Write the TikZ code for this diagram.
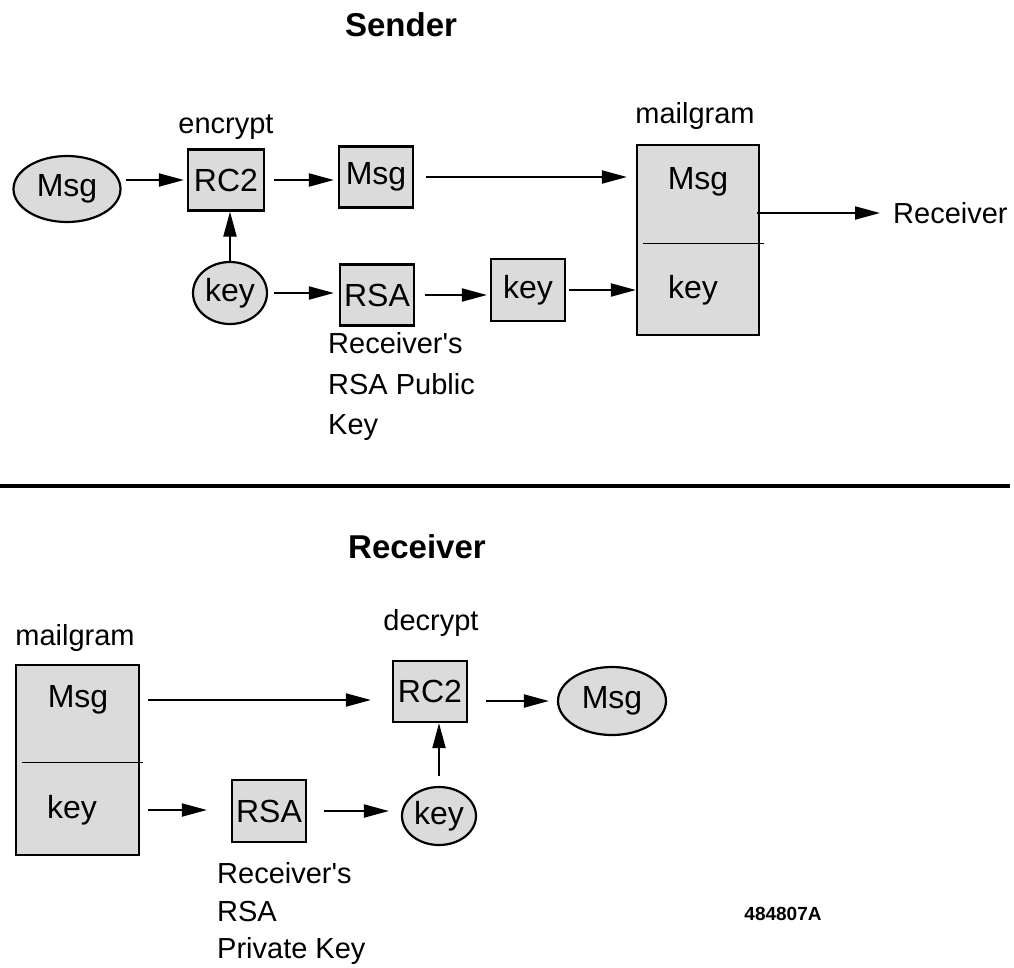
\documentclass[tikz,border=0pt]{standalone}
\usepackage{fontspec}
\setmainfont{Liberation Sans}[Ligatures=TeXOff]
\usetikzlibrary{arrows.meta,shapes.geometric}

\definecolor{shade}{gray}{0.86}
\newcommand\lblfont{\fontsize{29}{34}\selectfont}
\newcommand\boxfont{\fontsize{32}{38}\selectfont}
\newcommand\headfont{\fontsize{33}{40}\selectfont\bfseries}
\newcommand\tagfont{\fontsize{19}{23}\selectfont\bfseries}

\tikzset{
  box/.style={draw, line width=2.2pt, fill=shade, minimum width=74pt,
    minimum height=61pt, inner sep=0pt, font=\boxfont},
  oval/.style={draw, ellipse, line width=2.2pt, fill=shade, inner sep=0pt,
    font=\boxfont},
  gram/.style={draw, line width=2.2pt, fill=shade, minimum width=122pt,
    minimum height=190pt, inner sep=0pt},
  part/.style={inner sep=0pt, font=\boxfont},
  lbl/.style={inner sep=0pt, font=\lblfont},
  head/.style={inner sep=0pt, font=\headfont},
  arr/.style={line width=2pt, -{Triangle[length=25pt,width=13pt]}},
  divider/.style={line width=1pt},
}

\begin{document}
\begin{tikzpicture}[x=1pt, y=-1pt]
\useasboundingbox (0,0) rectangle (1014,967);

% ---------------- Sender ----------------
\node[head] (sendT) at (401,25) {Sender};
\node[lbl, anchor=base] (encT) at (226,133) {encrypt};

\node[oval, minimum width=107pt, minimum height=66pt] (msgA) at (67,189) {Msg};
\node[box, minimum width=76pt] (rc2) at (226,180) {RC2};
\node[box] (msgB) at (376,177) {Msg};
\node[oval, minimum width=74pt, minimum height=62pt] (keyA) at (230,293) {key};
\node[box] (rsa) at (377,295) {RSA};
\node[box, minimum height=62pt] (keyB) at (528,290) {key};

\node[lbl, anchor=base] (mgT) at (695,123) {mailgram};
\node[gram] (mg) at (698,240) {};
\coordinate (mgDivL) at (643,243);
\coordinate (mgDivR) at (764,243);
\draw[divider] (mgDivL) -- (mgDivR);
\node[part] (mgMsg) at (698,182) {Msg};
\node[part] (mgKey) at (693,290) {key};

\node[lbl, anchor=west] (rcv) at (893,213) {Receiver};

\node[lbl, anchor=base west] (pub1) at (328,353) {Receiver's};
\node[lbl, anchor=base west] (pub2) at (328,394) {RSA Public};
\node[lbl, anchor=base west] (pub3) at (328,434) {Key};

\draw[arr, shorten <=4pt, shorten >=3pt] (msgA.east |- rc2) -- (rc2.west);
\draw[arr, shorten <=9pt, shorten >=4pt] (rc2.east) -- (rc2.east -| msgB.west);
\draw[arr, shorten <=12pt, shorten >=9pt] (msgB.east) -- (msgB.east -| mg.west);
\draw[arr, shorten <=-3pt, shorten >=13pt] (mg.east |- rcv) -- (rcv.west);
\draw[arr] (keyA.north) -- (keyA.north |- rc2.south);
\draw[arr, shorten <=6pt, shorten >=5pt] (keyA.east) -- (keyA.east -| rsa.west);
\draw[arr, shorten <=10pt, shorten >=3pt] (rsa.east) -- (rsa.east -| keyB.west);
\draw[arr, shorten <=3pt] (keyB.east) -- (keyB.east -| mg.west);

% ---------------- separator ----------------
\coordinate (ruleL) at (0,486);
\coordinate (ruleR) at (1010,486);
\draw[line width=3.5pt] (ruleL) -- (ruleR);

% ---------------- Receiver ----------------
\node[head] (recvT) at (417,547) {Receiver};

\node[lbl, anchor=base] (mgT2) at (75,645) {mailgram};
\node[gram, minimum width=123pt] (mgB) at (77.5,760) {};
\coordinate (mgBDivL) at (22,762);
\coordinate (mgBDivR) at (143,762);
\draw[divider] (mgBDivL) -- (mgBDivR);
\node[part] (bMsg) at (78,700) {Msg};
\node[part] (bKey) at (72,810) {key};

\node[lbl, anchor=base] (decT) at (431,630) {decrypt};
\node[box] (rc2b) at (430,691.5) {RC2};
\node[oval, minimum width=108pt, minimum height=68pt] (msgC) at (612,701) {Msg};
\node[box, minimum height=62pt] (rsaB) at (269,811) {RSA};
\node[oval, minimum width=74pt, minimum height=58pt] (keyC) at (439,816) {key};

\node[lbl, anchor=base west] (prv1) at (217,883) {Receiver's};
\node[lbl, anchor=base west] (prv2) at (217,921) {RSA};
\node[lbl, anchor=base west] (prv3) at (217,958) {Private Key};

\node[inner sep=0pt, font=\tagfont, anchor=base] (figId) at (783,920) {484807A};

\draw[arr, shorten <=8pt, shorten >=21pt] (mgB.east |- bMsg) -- (rc2b.west |- bMsg);
\draw[arr, shorten <=18pt, shorten >=8pt] (rc2b.east |- msgC) -- (msgC.west);
\draw[arr, shorten <=8pt, shorten >=24pt] (mgB.east |- bKey) -- (rsaB.west |- bKey);
\draw[arr, shorten <=17pt, shorten >=12pt] (rsaB.east) -- (rsaB.east -| keyC.west);
\draw[arr, shorten <=10pt] (keyC.north) -- (keyC.north |- rc2b.south);
\end{tikzpicture}
\end{document}
